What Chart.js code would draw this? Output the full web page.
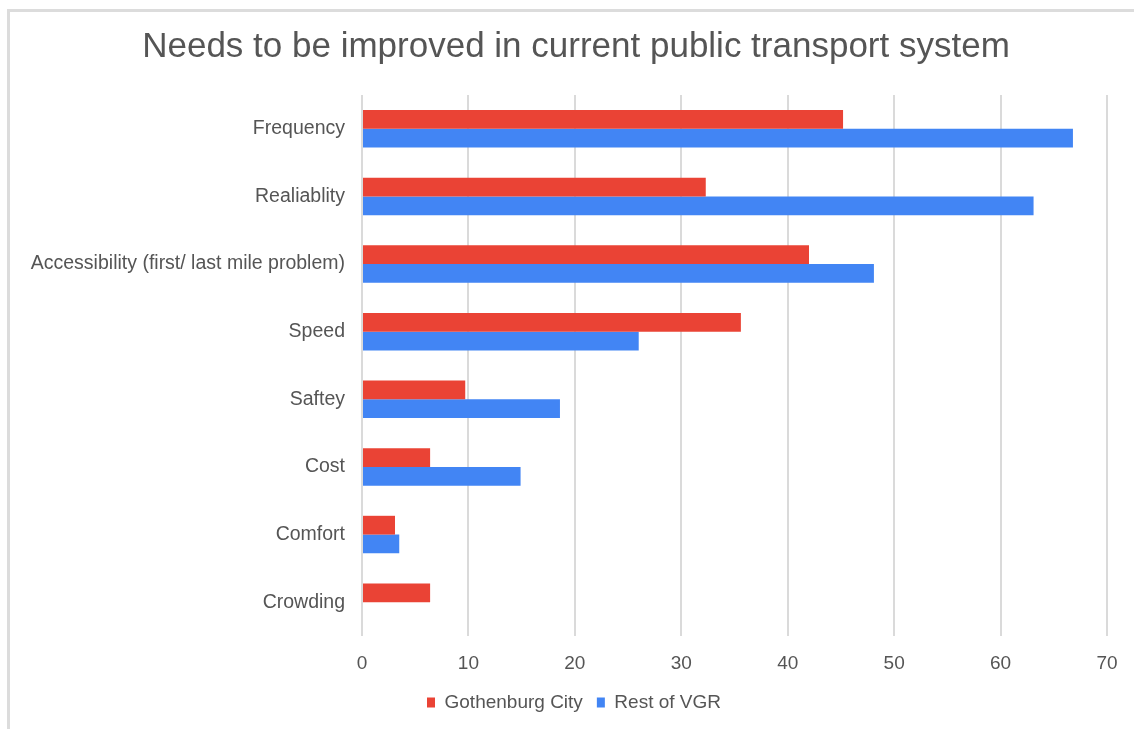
<!DOCTYPE html>
<html>
<head>
<meta charset="utf-8">
<title>Needs to be improved in current public transport system</title>
<script src="https://cdn.jsdelivr.net/npm/chart.js@4/dist/chart.umd.min.js"></script>
<style>
  html, body { margin: 0; padding: 0; background: #fff; overflow: hidden; }
  #wrap { position: relative; width: 1134px; height: 729px; }
  #frame {
    position: absolute; left: 7px; top: 9px; width: 1200px; height: 800px;
    border-top: 3px solid #dcdcdc; border-left: 3px solid #dcdcdc;
    pointer-events: none;
  }
  canvas { position: absolute; left: 0; top: 0; }
</style>
</head>
<body>
<div id="wrap">
  <canvas id="myChart" width="1134" height="729"></canvas>
  <div id="frame"></div>
</div>
<script>
// survey answers, share of respondents (%)
var categories = ["Frequency", "Realiablity", "Accessibility (first/ last mile problem)", "Speed", "Saftey", "Cost", "Comfort", "Crowding"];
var gothenburgCity = [45.2, 32.3, 42.0, 35.6, 9.7, 6.4, 3.1, 6.4];
var restOfVGR = [66.8, 63.1, 48.1, 26.0, 18.6, 14.9, 3.5, 0];
var xTicks = [0, 10, 20, 30, 40, 50, 60, 70];

var textGrey = "#555555";
var fontFamily = "'Liberation Sans', Arial, sans-serif";

Chart.defaults.font.family = fontFamily;
Chart.defaults.color = textGrey;

// nudge title and legend to the right after layout (they sit centred on the frame, not the canvas)
var shiftBlocks = {
  id: 'shiftBlocks',
  afterLayout: function(chart) {
    if (chart.titleBlock) { chart.titleBlock.left += 10; chart.titleBlock.right += 10; }
    if (chart.legend) { chart.legend.left += 8; chart.legend.right += 8; }
  }
};

var canvas = document.getElementById("myChart");
var chart = new Chart(canvas, {
  type: 'bar',
  data: {
    labels: categories,
    datasets: [
      {
        label: "Gothenburg City",
        backgroundColor: "#ea4335",
        data: gothenburgCity,
        categoryPercentage: 0.555,
        barPercentage: 1.0
      },
      {
        label: "Rest of VGR",
        backgroundColor: "#4285f4",
        data: restOfVGR,
        categoryPercentage: 0.555,
        barPercentage: 1.0
      }
    ]
  },
  plugins: [shiftBlocks],
  options: {
    indexAxis: 'y',
    responsive: false,
    animation: false,
    layout: { padding: { left: 25, right: 27, top: 0, bottom: 7 } },
    plugins: {
      title: {
        display: true,
        text: "Needs to be improved in current public transport system",
        color: textGrey,
        font: { size: 35, weight: 'normal' },
        padding: { top: 26, bottom: 27 }
      },
      legend: {
        position: 'bottom',
        labels: {
          color: textGrey,
          font: { size: 19 },
          boxWidth: 8,
          boxHeight: 10,
          padding: 14
        }
      },
      tooltip: { enabled: false }
    },
    scales: {
      x: {
        min: 0,
        max: 70,
        afterBuildTicks: function(scale) {
          scale.ticks = xTicks.map(function(v) { return { value: v }; });
        },
        afterFit: function(scale) { scale.height = 43; },
        grid: { color: "#dadada", lineWidth: 2, drawTicks: false },
        border: { display: false },
        ticks: { color: textGrey, font: { size: 19 }, padding: 16 }
      },
      y: {
        afterFit: function(scale) { scale.width = 337; },
        grid: { display: false },
        border: { display: false },
        ticks: { color: textGrey, font: { size: 19.5 }, padding: 9 }
      }
    }
  }
});
</script>
</body>
</html>
